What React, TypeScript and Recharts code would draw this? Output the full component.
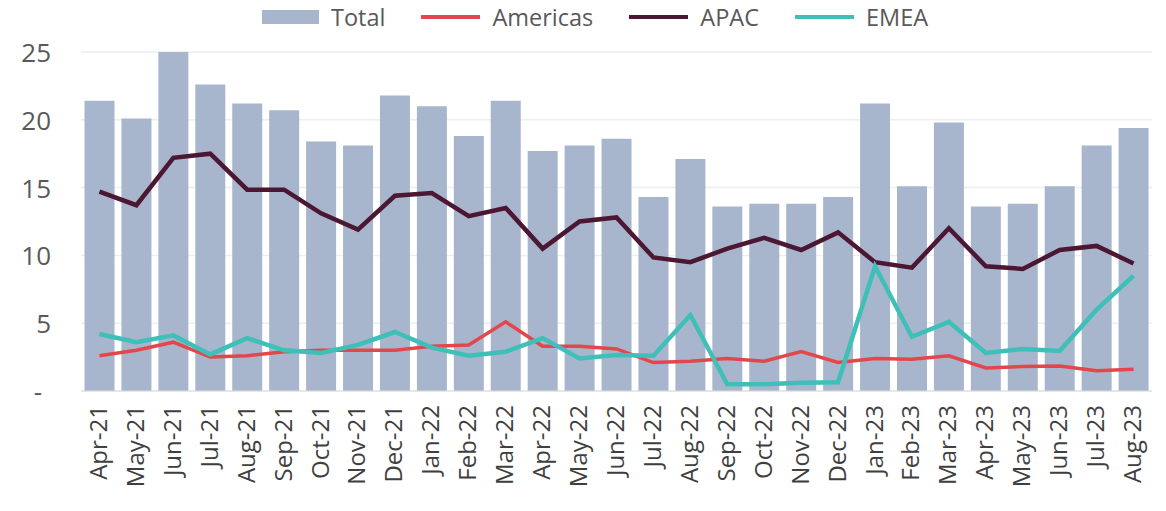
import React from "react";
import { ComposedChart, Bar, Line, XAxis, YAxis, CartesianGrid } from "recharts";

const months = ["Apr-21","May-21","Jun-21","Jul-21","Aug-21","Sep-21","Oct-21","Nov-21","Dec-21","Jan-22","Feb-22","Mar-22","Apr-22","May-22","Jun-22","Jul-22","Aug-22","Sep-22","Oct-22","Nov-22","Dec-22","Jan-23","Feb-23","Mar-23","Apr-23","May-23","Jun-23","Jul-23","Aug-23"];
const total = [21.4,20.1,25.0,22.6,21.2,20.7,18.4,18.1,21.8,21.0,18.8,21.4,17.7,18.1,18.6,14.3,17.1,13.6,13.8,13.8,14.3,21.2,15.1,19.8,13.6,13.8,15.1,18.1,19.4];
const americas = [2.6,3.0,3.6,2.5,2.6,2.9,3.0,3.0,3.0,3.3,3.4,5.1,3.3,3.3,3.1,2.1,2.2,2.4,2.2,2.9,2.1,2.4,2.35,2.6,1.7,1.8,1.85,1.5,1.6];
const apac = [14.7,13.7,17.2,17.5,14.85,14.85,13.1,11.9,14.4,14.6,12.9,13.5,10.5,12.5,12.8,9.85,9.5,10.5,11.3,10.4,11.7,9.5,9.1,12.0,9.2,9.0,10.4,10.7,9.4];
const emea = [4.2,3.6,4.1,2.7,3.9,3.0,2.8,3.4,4.35,3.2,2.6,2.9,3.9,2.4,2.65,2.6,5.6,0.5,0.5,0.6,0.65,9.2,4.0,5.1,2.8,3.1,2.95,6.0,8.5];
const yTicks = [0, 5, 10, 15, 20, 25];

const COLORS = { Total: "#a8b6cd", Americas: "#e2474b", APAC: "#4b1732", EMEA: "#3ebfb8" };
const FONT = "'Open Sans', sans-serif";

const data = months.map((m, i) => ({
  month: m,
  Total: total[i],
  Americas: americas[i],
  APAC: apac[i],
  EMEA: emea[i],
}));

const legendItems = [
  { name: "Total", type: "bar" },
  { name: "Americas", type: "line" },
  { name: "APAC", type: "line" },
  { name: "EMEA", type: "line" },
];

const XTick = (props: any) => {
  const { x, y, payload } = props;
  return (
    <text
      x={x - 2}
      y={y}
      transform={`rotate(-90, ${x - 2}, ${y})`}
      textAnchor="end"
      dominantBaseline="central"
      fontFamily={FONT}
      fontSize={24}
      fill="#3f3f3f"
    >
      {payload.value}
    </text>
  );
};

const YTick = (props: any) => {
  const { x, y, payload } = props;
  const isZero = payload.value === 0;
  return (
    <text
      x={isZero ? x - 9 : x}
      y={y}
      textAnchor="end"
      dominantBaseline="central"
      fontFamily={FONT}
      fontSize={26}
      fill="#595959"
    >
      {isZero ? "-" : payload.value}
    </text>
  );
};

export default function App() {
  return (
    <div style={{ position: "absolute", left: 0, top: 0, width: 1166, height: 511, background: "#fff" }}>
      <div
        style={{
          position: "absolute",
          left: 262,
          top: 1,
          display: "flex",
          alignItems: "center",
          fontFamily: FONT,
          fontSize: 23.5,
          color: "#595959",
          whiteSpace: "nowrap",
        }}
      >
        {legendItems.map((it, i) => (
          <div key={it.name} style={{ display: "flex", alignItems: "center", marginRight: i < legendItems.length - 1 ? 36 : 0 }}>
            {it.type === "bar" ? (
              <div style={{ width: 57, height: 14, background: COLORS[it.name as keyof typeof COLORS] }} />
            ) : (
              <div style={{ width: 59, height: 4, background: COLORS[it.name as keyof typeof COLORS] }} />
            )}
            <span style={{ marginLeft: 12 }}>{it.name}</span>
          </div>
        ))}
      </div>
      <ComposedChart
        width={1166}
        height={511}
        data={data}
        margin={{ top: 52, right: 14, bottom: 0, left: 0 }}
        barCategoryGap="9.5%"
      >
        <CartesianGrid vertical={false} stroke="#eeeeee" strokeWidth={1.5} />
        <XAxis
          dataKey="month"
          interval={0}
          height={120}
          tickLine={false}
          axisLine={{ stroke: "#dcdcdc" }}
          tick={<XTick />}
          tickMargin={8}
        />
        <YAxis
          width={81}
          domain={[0, 25]}
          ticks={yTicks}
          axisLine={false}
          tickLine={false}
          tickMargin={24}
          tick={<YTick />}
        />
        <Bar dataKey="Total" fill={COLORS.Total} isAnimationActive={false} />
        <Line dataKey="Americas" stroke={COLORS.Americas} strokeWidth={3.5} dot={false} isAnimationActive={false} />
        <Line dataKey="APAC" stroke={COLORS.APAC} strokeWidth={4.5} dot={false} isAnimationActive={false} />
        <Line dataKey="EMEA" stroke={COLORS.EMEA} strokeWidth={4.5} dot={false} isAnimationActive={false} />
      </ComposedChart>
    </div>
  );
}
